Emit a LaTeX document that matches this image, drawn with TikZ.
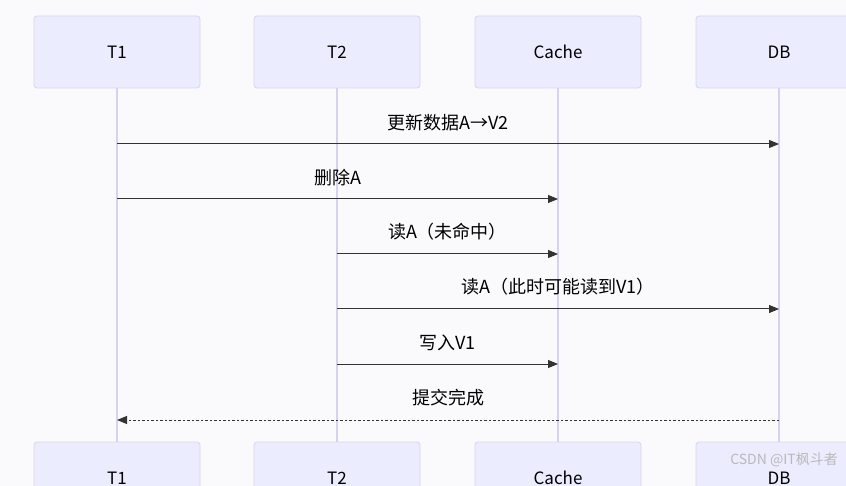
\documentclass[tikz,border=0pt]{standalone}
\usepackage{fontspec}
\setmainfont{Noto Sans CJK SC}
\usetikzlibrary{arrows.meta}
\definecolor{bg}{HTML}{FAFAFC}
\definecolor{boxf}{HTML}{ECECFF}
\definecolor{boxd}{HTML}{D6D3F3}
\definecolor{life}{HTML}{D6D3F0}
\definecolor{ink}{HTML}{333333}
\begin{document}
\begin{tikzpicture}[x=1pt,y=-1pt,
  actor/.style={draw=boxd,fill=boxf,rounded corners=3pt,minimum width=166pt,minimum height=72pt,font=\fontsize{17}{19}\selectfont,text=black,line width=0.8pt},
  msg/.style={draw=ink,line width=1pt,-{Triangle[length=10pt,width=8pt]}},
  lbl/.style={font=\fontsize{18}{20}\selectfont,text=black,inner sep=2pt}]
\useasboundingbox (0,0) rectangle (846,486);
\clip (0,0) rectangle (846,486);
\fill[bg] (0,0) rectangle (846,486);
\foreach \n/\x/\t in {a/117/T1,b/337/T2,c/558/Cache,d/779/DB}{
  \node[actor] (\n top) at (\x,52) {\t};
  \node[actor] (\n bot) at (\x,478) {\t};
  \draw[life,line width=1.2pt] (\n top.south) -- (\n bot.north);
}
\coordinate (a1) at (117,144); \coordinate (d1) at (779,144);
\coordinate (a2) at (117,199); \coordinate (c2) at (558,199);
\coordinate (b3) at (337,254); \coordinate (c3) at (558,254);
\coordinate (b4) at (337,309); \coordinate (d4) at (779,309);
\coordinate (b5) at (337,364); \coordinate (c5) at (558,364);
\coordinate (d6) at (779,420); \coordinate (a6) at (117,420);
\draw[msg] (a1) -- node[lbl,above=11pt] {更新数据A→V2} (d1);
\draw[msg] (a2) -- node[lbl,above=11pt] {删除A} (c2);
\draw[msg] (b3) -- node[lbl,above=11pt] {读A（未命中）} (c3);
\draw[msg] (b4) -- node[lbl,above=11pt] {读A（此时可能读到V1）} (d4);
\draw[msg] (b5) -- node[lbl,above=11pt] {写入V1} (c5);
\draw[msg,dash pattern=on 2.5pt off 2pt] (d6) -- node[lbl,above=11pt] {提交完成} (a6);
\node[font=\fontsize{14}{15}\selectfont,text=gray!55,anchor=east,inner sep=0pt] (wm) at (838,460) {CSDN @IT枫斗者};
\end{tikzpicture}
\end{document}
